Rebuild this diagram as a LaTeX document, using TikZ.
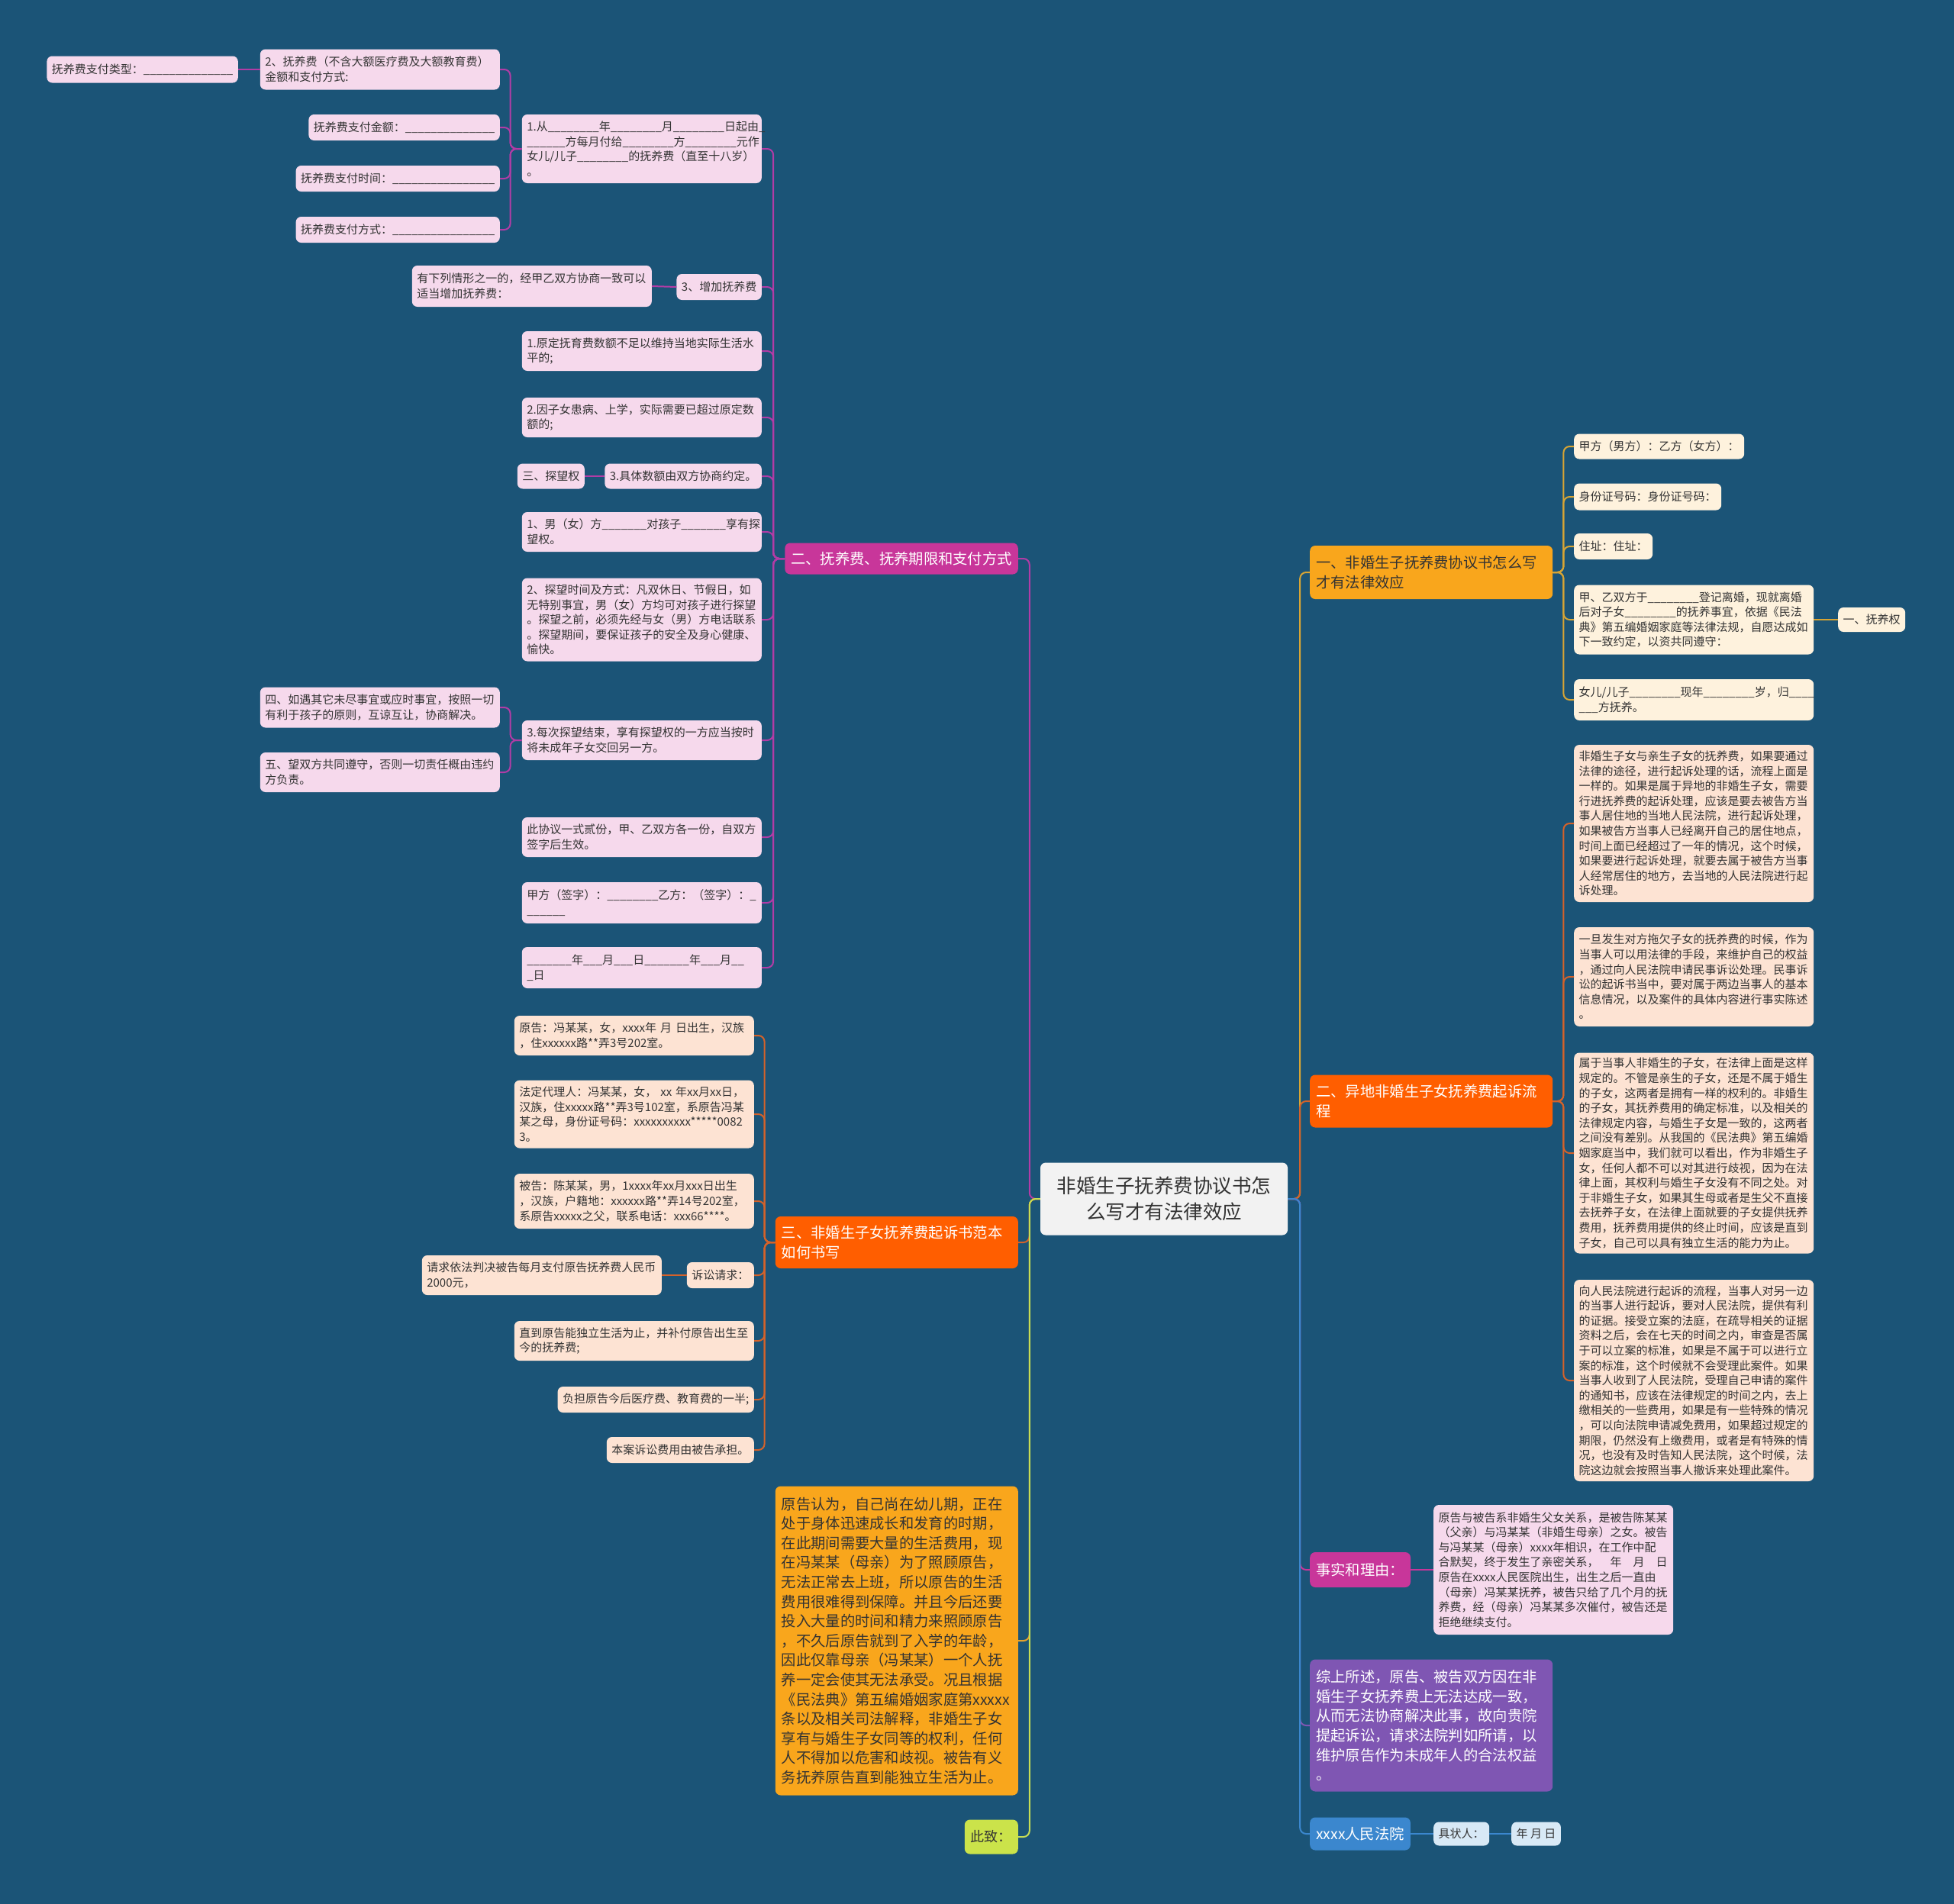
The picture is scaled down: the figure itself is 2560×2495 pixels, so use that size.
\documentclass[tikz,border=0pt]{standalone}
\usepackage{fontspec}
\setmainfont{Noto Sans CJK SC}
\usetikzlibrary{positioning}

\definecolor{bg}{HTML}{1B5477}
\definecolor{txt}{HTML}{333333}
\definecolor{pinkfill}{HTML}{F6D9EC}
\definecolor{pinkline}{HTML}{B23CA6}
\definecolor{rose}{HTML}{C8369A}
\definecolor{peachfill}{HTML}{FDE3D3}
\definecolor{orangefill}{HTML}{FF5E00}
\definecolor{orangeline}{HTML}{D4622A}
\definecolor{creamfill}{HTML}{FEF2DD}
\definecolor{amber}{HTML}{F9A61C}
\definecolor{amberline}{HTML}{E8A32A}
\definecolor{goldline}{HTML}{D8A534}
\definecolor{grape}{HTML}{7F56B3}
\definecolor{bluefill}{HTML}{3B87CE}
\definecolor{skyfill}{HTML}{D8E9F6}
\definecolor{limefill}{HTML}{CBE34A}
\definecolor{limeline}{HTML}{C6DD55}
\definecolor{rootfill}{HTML}{F2F2F2}

\begin{document}
\catcode`\_=12
\begin{tikzpicture}[x=1pt,y=-1pt,
  box/.style={rounded corners=7pt, inner xsep=6.5pt, inner ysep=3pt, align=left, text=txt,
    font=\fontsize{15}{19.6}\selectfont},
  wide/.style={text width=301pt},
  pink/.style={box, fill=pinkfill},
  peach/.style={box, fill=peachfill},
  cream/.style={box, fill=creamfill},
  sky/.style={box, fill=skyfill},
  head/.style={rounded corners=7pt, inner xsep=8pt, inner ysep=3pt, align=left,
    font=\fontsize{19.3}{25.6}\selectfont},
  headw/.style={head, text width=302pt},
  link/.style={line width=2pt, rounded corners=8pt}]

 % background and size
 \fill[bg] (0,0) rectangle (2560,2495);

 % root
 \node[fill=rootfill, rounded corners=7pt, text=txt, align=center, text width=308pt, inner xsep=8pt,
   minimum height=95pt, font=\fontsize{25.5}{34}\selectfont] (root) at (1525,1571)
   {非婚生子抚养费协议书怎\\么写才有法律效应};

 % left: 抚养费、抚养期限和支付方式
 \node[head, fill=rose, text=white, minimum height=41pt, anchor=east] (fee) at (1334,732) {二、抚养费、抚养期限和支付方式};

 \node[pink, wide, anchor=east, minimum height=90pt] (f1) at (998,195)
   {1.从________年________月________日起由_\\______方每月付给________方________元作\\女儿/儿子________的抚养费（直至十八岁）\\。};
 \node[pink, anchor=east, minimum height=34pt] (f2) at (998,376) {3、增加抚养费};
 \node[pink, wide, anchor=east, minimum height=52pt] (f3) at (998,460) {1.原定抚育费数额不足以维持当地实际生活水\\平的;};
 \node[pink, wide, anchor=east, minimum height=52pt] (f4) at (998,547) {2.因子女患病、上学，实际需要已超过原定数\\额的;};
 \node[pink, anchor=east, minimum height=33pt] (f5) at (998,624) {3.具体数额由双方协商约定。};
 \node[pink, wide, anchor=east, minimum height=52pt] (f6) at (998,697) {1、男（女）方_______对孩子_______享有探\\望权。};
 \node[pink, wide, anchor=east, minimum height=109pt] (f7) at (998,812)
   {2、探望时间及方式：凡双休日、节假日，如\\无特别事宜，男（女）方均可对孩子进行探望\\。探望之前，必须先经与女（男）方电话联系\\。探望期间，要保证孩子的安全及身心健康、\\愉快。};
 \node[pink, wide, anchor=east, minimum height=52pt] (f8) at (998,970) {3.每次探望结束，享有探望权的一方应当按时\\将未成年子女交回另一方。};
 \node[pink, wide, anchor=east, minimum height=52pt] (f9) at (998,1097) {此协议一式贰份，甲、乙双方各一份，自双方\\签字后生效。};
 \node[pink, wide, anchor=east, minimum height=54pt] (f10) at (998,1183) {甲方（签字）：________乙方：（签字）：_\\______};
 \node[pink, wide, anchor=east, minimum height=54pt] (f11) at (998,1268) {_______年___月___日_______年___月__\\_日};

 \node[pink, wide, anchor=east, minimum height=53pt] (g1) at (655,91) {2、抚养费（不含大额医疗费及大额教育费）\\金额和支付方式:};
 \node[pink, anchor=east, minimum height=34pt] (g2) at (655,167) {抚养费支付金额：______________};
 \node[pink, anchor=east, minimum height=34pt] (g3) at (655,234) {抚养费支付时间：________________};
 \node[pink, anchor=east, minimum height=34pt] (g4) at (655,301) {抚养费支付方式：________________};
 \node[pink, anchor=east, minimum height=35pt] (g0) at (312,91) {抚养费支付类型：______________};
 \node[pink, wide, anchor=east, minimum height=54pt] (c1) at (854,375) {有下列情形之一的，经甲乙双方协商一致可以\\适当增加抚养费：};
 \node[pink, anchor=east, minimum height=33pt] (c2) at (766,624) {三、探望权};
 \node[pink, wide, anchor=east, minimum height=53pt] (c3) at (655,927) {四、如遇其它未尽事宜或应时事宜，按照一切\\有利于孩子的原则，互谅互让，协商解决。};
 \node[pink, wide, anchor=east, minimum height=52pt] (c4) at (655,1012) {五、望双方共同遵守，否则一切责任概由违约\\方负责。};

 % left: 起诉书范本
 \node[headw, fill=orangefill, text=white, minimum height=68pt, anchor=east] (suit) at (1334,1628) {三、非婚生子女抚养费起诉书范本\\如何书写};
 \node[peach, wide, anchor=east, minimum height=52pt] (d1) at (988,1357) {原告：冯某某，女，xxxx年 月 日出生，汉族\\，住xxxxxx路**弄3号202室。};
 \node[peach, wide, anchor=east, minimum height=89pt] (d2) at (988,1460) {法定代理人：冯某某，女， xx 年xx月xx日，\\汉族，住xxxxx路**弄3号102室，系原告冯某\\某之母，身份证号码：xxxxxxxxxx*****0082\\3。};
 \node[peach, wide, anchor=east, minimum height=72pt] (d3) at (988,1574) {被告：陈某某，男，1xxxx年xx月xxx日出生\\，汉族，户籍地：xxxxxx路**弄14号202室，\\系原告xxxxx之父，联系电话：xxx66****。};
 \node[peach, anchor=east, minimum height=34pt] (d4) at (988,1671) {诉讼请求：};
 \node[peach, wide, anchor=east, minimum height=52pt] (d5) at (988,1757) {直到原告能独立生活为止，并补付原告出生至\\今的抚养费;};
 \node[peach, anchor=east, minimum height=34pt] (d6) at (988,1834) {负担原告今后医疗费、教育费的一半;};
 \node[peach, anchor=east, minimum height=34pt] (d7) at (988,1900) {本案诉讼费用由被告承担。};
 \node[peach, wide, anchor=east, minimum height=52pt] (e1) at (867,1671) {请求依法判决被告每月支付原告抚养费人民币\\2000元，};

 % left: 原告认为 / 此致
 \node[headw, fill=amber, text=txt, minimum height=405pt, anchor=east] (claim) at (1334,2150)
   {原告认为，自己尚在幼儿期，正在\\处于身体迅速成长和发育的时期，\\在此期间需要大量的生活费用，现\\在冯某某（母亲）为了照顾原告，\\无法正常去上班，所以原告的生活\\费用很难得到保障。并且今后还要\\投入大量的时间和精力来照顾原告\\，不久后原告就到了入学的年龄，\\因此仅靠母亲（冯某某）一个人抚\\养一定会使其无法承受。况且根据\\《民法典》第五编婚姻家庭第xxxxx\\条以及相关司法解释，非婚生子女\\享有与婚生子女同等的权利，任何\\人不得加以危害和歧视。被告有义\\务抚养原告直到能独立生活为止。};
 \node[head, fill=limefill, text=txt, minimum height=45pt, anchor=east, font=\fontsize{18}{24}\selectfont] (cizhi) at (1334,2407) {此致：};

 % right: 协议书
 \node[headw, fill=amber, text=txt, minimum height=70pt, anchor=west] (valid) at (1716,750) {一、非婚生子抚养费协议书怎么写\\才有法律效应};
 \node[cream, anchor=west, minimum height=33pt] (h1) at (2062,585) {甲方（男方）：乙方（女方）：};
 \node[cream, anchor=west, minimum height=35pt] (h2) at (2062,651) {身份证号码：身份证号码：};
 \node[cream, anchor=west, minimum height=34pt] (h3) at (2062,716) {住址：住址：};
 \node[cream, wide, anchor=west, minimum height=91pt] (h4) at (2062,812) {甲、乙双方于________登记离婚，现就离婚\\后对子女________的抚养事宜，依据《民法\\典》第五编婚姻家庭等法律法规，自愿达成如\\下一致约定，以资共同遵守：};
 \node[cream, wide, anchor=west, minimum height=54pt] (h5) at (2062,917) {女儿/儿子________现年________岁，归____\\___方抚养。};
 \node[cream, anchor=west, minimum height=32pt] (k) at (2408,812) {一、抚养权};

 % right: 起诉流程
 \node[headw, fill=orangefill, text=white, minimum height=69pt, anchor=west] (proc) at (1716,1443) {二、异地非婚生子女抚养费起诉流\\程};
 \node[peach, wide, anchor=west, minimum height=206pt] (p1) at (2062,1079)
   {非婚生子女与亲生子女的抚养费，如果要通过\\法律的途径，进行起诉处理的话，流程上面是\\一样的。如果是属于异地的非婚生子女，需要\\行进抚养费的起诉处理，应该是要去被告方当\\事人居住地的当地人民法院，进行起诉处理，\\如果被告方当事人已经离开自己的居住地点，\\时间上面已经超过了一年的情况，这个时候，\\如果要进行起诉处理，就要去属于被告方当事\\人经常居住的地方，去当地的人民法院进行起\\诉处理。};
 \node[peach, wide, anchor=west, minimum height=130pt] (p2) at (2062,1280)
   {一旦发生对方拖欠子女的抚养费的时候，作为\\当事人可以用法律的手段，来维护自己的权益\\，通过向人民法院申请民事诉讼处理。民事诉\\讼的起诉书当中，要对属于两边当事人的基本\\信息情况，以及案件的具体内容进行事实陈述\\。};
 \node[peach, wide, anchor=west, minimum height=263pt] (p3) at (2062,1511)
   {属于当事人非婚生的子女，在法律上面是这样\\规定的。不管是亲生的子女，还是不属于婚生\\的子女，这两者是拥有一样的权利的。非婚生\\的子女，其抚养费用的确定标准，以及相关的\\法律规定内容，与婚生子女是一致的，这两者\\之间没有差别。从我国的《民法典》第五编婚\\姻家庭当中，我们就可以看出，作为非婚生子\\女，任何人都不可以对其进行歧视，因为在法\\律上面，其权利与婚生子女没有不同之处。对\\于非婚生子女，如果其生母或者是生父不直接\\去抚养子女，在法律上面就要的子女提供抚养\\费用，抚养费用提供的终止时间，应该是直到\\子女，自己可以具有独立生活的能力为止。};
 \node[peach, wide, anchor=west, minimum height=264pt] (p4) at (2062,1809)
   {向人民法院进行起诉的流程，当事人对另一边\\的当事人进行起诉，要对人民法院，提供有利\\的证据。接受立案的法庭，在疏导相关的证据\\资料之后，会在七天的时间之内，审查是否属\\于可以立案的标准，如果是不属于可以进行立\\案的标准，这个时候就不会受理此案件。如果\\当事人收到了人民法院，受理自己申请的案件\\的通知书，应该在法律规定的时间之内，去上\\缴相关的一些费用，如果是有一些特殊的情况\\，可以向法院申请减免费用，如果超过规定的\\期限，仍然没有上缴费用，或者是有特殊的情\\况，也没有及时告知人民法院，这个时候，法\\院这边就会按照当事人撤诉来处理此案件。};

 % right: 事实和理由 / 综上所述 / 法院
 \node[head, fill=rose, text=white, minimum height=46pt, anchor=west] (fact) at (1716,2057) {事实和理由：};
 \node[pink, wide, anchor=west, minimum height=170pt] (q) at (1878,2057)
   {原告与被告系非婚生父女关系，是被告陈某某\\（父亲）与冯某某（非婚生母亲）之女。被告\\与冯某某（母亲）xxxx年相识，在工作中配\\合默契，终于发生了亲密关系，　年　月　日\\原告在xxxx人民医院出生，出生之后一直由\\（母亲）冯某某抚养，被告只给了几个月的抚\\养费，经（母亲）冯某某多次催付，被告还是\\拒绝继续支付。};
 \node[headw, fill=grape, text=white, minimum height=173pt, anchor=west] (summ) at (1716,2261)
   {综上所述，原告、被告双方因在非\\婚生子女抚养费上无法达成一致，\\从而无法协商解决此事，故向贵院\\提起诉讼，请求法院判如所请，以\\维护原告作为未成年人的合法权益\\。};
 \node[head, fill=bluefill, text=white, minimum height=43pt, anchor=west] (court) at (1716,2403) {xxxx人民法院};
 \node[sky, anchor=west, minimum height=31pt] (j1) at (1878,2403) {具状人：};
 \node[sky, anchor=west, minimum height=31pt] (j2) at (1980,2403) {年 月 日};

 % connectors, left side
 \foreach \n/\c in {fee/pinkline,suit/orangeline,claim/amberline,cizhi/limeline}
   \draw[link,\c] (root.west) -- ++(-14,0) |- (\n.east);
 \foreach \i in {1,...,11}
   \draw[link,pinkline] (fee.west) -- ++(-15,0) |- (f\i.east);
 \foreach \i in {1,...,4}
   \draw[link,pinkline] (f1.west) -- ++(-15,0) |- (g\i.east);
 \draw[link,pinkline] (g1.west) -- (g0.east);
 \draw[link,pinkline] (f2.west) -- (c1.east);
 \draw[link,pinkline] (f5.west) -- (c2.east);
 \foreach \i in {3,4}
   \draw[link,pinkline] (f8.west) -- ++(-15,0) |- (c\i.east);
 \foreach \i in {1,...,7}
   \draw[link,orangeline] (suit.west) -- ++(-14,0) |- (d\i.east);
 \draw[link,orangeline] (d4.west) -- (e1.east);

 % connectors, right side
 \foreach \n/\c in {valid/goldline,proc/orangeline,fact/rose,summ/grape,court/bluefill}
   \draw[link,\c] (root.east) -- ++(16,0) |- (\n.west);
 \foreach \i in {1,...,5}
   \draw[link,goldline] (valid.east) -- ++(14,0) |- (h\i.west);
 \draw[link,goldline] (h4.east) -- (k.west);
 \foreach \i in {1,...,4}
   \draw[link,orangeline] (proc.east) -- ++(14,0) |- (p\i.west);
 \draw[link,rose] (fact.east) -- (q.west);
 \draw[link,bluefill] (court.east) -- (j1.west);
 \draw[link,bluefill] (j1.east) -- (j2.west);
\end{tikzpicture}
\end{document}
